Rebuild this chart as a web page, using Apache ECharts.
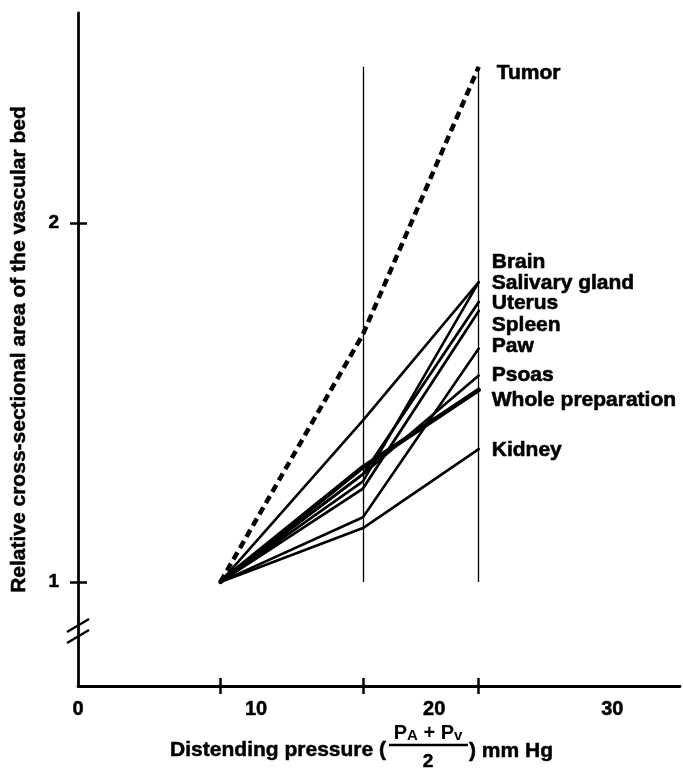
<!DOCTYPE html>
<html>
<head>
<meta charset="utf-8">
<script src="https://cdn.jsdelivr.net/npm/echarts@6/dist/echarts.min.js"></script>
<style>
  html, body { margin: 0; padding: 0; background: #fff; }
  #main { width: 683px; height: 773px; }
</style>
</head>
<body>
<div id="main"></div>
<script>
// distending pressure (mm Hg) where each preparation was measured
var pressure = [8, 16, 22.5];

// relative cross-sectional area, one array per preparation
var tumor = [1, 1.69, 2.435];
var brain = [1, 1.45, 1.835];
var salivary = [1, 1.28, 1.835];
var uterus = [1, 1.30, 1.78];
var spleen = [1, 1.26, 1.755];
var paw = [1, 1.18, 1.65];
var psoas = [1, 1.30, 1.575];
var whole = [1, 1.32, 1.535];
var kidney = [1, 1.15, 1.37];

var xLabels = [0, 10, 20, 30];
var yLabels = [1, 2];

// thin vertical guide lines
var guideX = [16, 22.5];
var guideTop = 2.435;

var FONT = '"Liberation Sans", Arial, sans-serif';

var myChart = echarts.init(document.getElementById('main'));

function pairs(vals) {
    return pressure.map(function (p, i) { return [p, vals[i]]; });
}

// name, values, width, dashed, label offset
function organ(name, vals, width, dashed, dx, dy) {
    return {
        type: 'line',
        name: name,
        data: pairs(vals),
        symbol: 'none',
        silent: true,
        lineStyle: {
            color: '#000',
            width: width,
            type: dashed ? [8, 5] : 'solid',
            cap: dashed ? 'butt' : 'round',
            join: 'round'
        },
        endLabel: {
            show: true,
            formatter: '{a}',
            distance: 0,
            offset: [dx, dy],
            color: '#000',
            fontFamily: FONT,
            fontWeight: 'bold',
            fontSize: 21,
            textBorderColor: '#000',
            textBorderWidth: 0.6
        }
    };
}

var series = [
    organ('Tumor', tumor, 4.5, true, 18, 6),
    organ('Brain', brain, 2.6, false, 13, -20),
    organ('Salivary gland', salivary, 2.6, false, 13, 1),
    organ('Uterus', uterus, 2.8, false, 13, 1),
    organ('Spleen', spleen, 2.8, false, 13, 14),
    organ('Paw', paw, 2.6, false, 13, -2),
    organ('Psoas', psoas, 2.6, false, 13, 0),
    organ('Whole preparation', whole, 4.5, false, 13, 10),
    organ('Kidney', kidney, 2.6, false, 13, 1)
];

// guide lines
series.push({
    type: 'line',
    data: [],
    silent: true,
    markLine: {
        symbol: 'none',
        silent: true,
        animation: false,
        label: { show: false },
        lineStyle: { color: '#000', width: 1.3, type: 'solid' },
        data: guideX.map(function (x) {
            return [{ coord: [x, 1] }, { coord: [x, guideTop] }];
        })
    }
});

var labelStyle = {
    color: '#000',
    fontFamily: FONT,
    fontWeight: 'bold',
    textBorderColor: '#000',
    textBorderWidth: 0.5
};

myChart.setOption({
    animation: false,
    backgroundColor: '#fff',
    grid: { left: 78, right: 3, top: 13, bottom: 87 },
    xAxis: [
        {
            type: 'value',
            min: 0,
            max: 33.8,
            splitLine: { show: false },
            axisLine: { lineStyle: { color: '#000', width: 2.8 } },
            axisTick: {
                show: true,
                customValues: pressure,
                length: 8,
                lineStyle: { color: '#000', width: 2.5 }
            },
            axisLabel: Object.assign({
                customValues: xLabels,
                margin: 13,
                fontSize: 20
            }, labelStyle)
        },
        {
            type: 'value',
            position: 'bottom',
            min: 0,
            max: 33.8,
            splitLine: { show: false },
            axisLine: { show: false },
            axisLabel: { show: false },
            axisTick: {
                show: true,
                inside: true,
                customValues: pressure,
                length: 8,
                lineStyle: { color: '#000', width: 2.5 }
            }
        }
    ],
    yAxis: [
        {
            type: 'value',
            min: 0.71,
            max: 2.585,
            splitLine: { show: false },
            axisLine: { lineStyle: { color: '#000', width: 2.8 } },
            axisTick: {
                show: true,
                customValues: yLabels,
                length: 8,
                lineStyle: { color: '#000', width: 2.5 }
            },
            axisLabel: Object.assign({
                customValues: yLabels,
                margin: 19,
                fontSize: 19
            }, labelStyle),
            name: 'Relative cross-sectional area of the vascular bed',
            nameLocation: 'middle',
            nameRotate: 90,
            nameGap: 48,
            nameTextStyle: Object.assign({ fontSize: 21 }, labelStyle)
        },
        {
            type: 'value',
            position: 'left',
            min: 0.71,
            max: 2.585,
            splitLine: { show: false },
            axisLine: { show: false },
            axisLabel: { show: false },
            axisTick: {
                show: true,
                inside: true,
                customValues: yLabels,
                length: 9,
                lineStyle: { color: '#000', width: 2.5 }
            }
        }
    ],
    graphic: [
        // axis break marks
        { type: 'line', shape: { x1: 67, y1: 632, x2: 89, y2: 619 }, style: { stroke: '#000', lineWidth: 2.5 } },
        { type: 'line', shape: { x1: 67, y1: 643, x2: 89, y2: 630 }, style: { stroke: '#000', lineWidth: 2.5 } },
        // x axis title with fraction
        {
            type: 'text', x: 386, y: 750,
            style: { text: 'Distending pressure (', fill: '#000', stroke: '#000', lineWidth: 0.5, font: 'bold 21px ' + FONT, textAlign: 'right', textVerticalAlign: 'middle' }
        },
        {
            type: 'text', x: 428, y: 733,
            style: {
                text: '{p|P}{s|A}{p| + P}{s|v}',
                textAlign: 'center', textVerticalAlign: 'middle',
                rich: {
                    p: { fontFamily: FONT, fontWeight: 'bold', fontSize: 20, fill: '#000', color: '#000' },
                    s: { fontFamily: FONT, fontWeight: 'bold', fontSize: 15, fill: '#000', color: '#000', verticalAlign: 'bottom' }
                }
            }
        },
        { type: 'line', shape: { x1: 389, y1: 745, x2: 468, y2: 745 }, style: { stroke: '#000', lineWidth: 2.5 } },
        {
            type: 'text', x: 428, y: 762,
            style: { text: '2', fill: '#000', stroke: '#000', lineWidth: 0.5, font: 'bold 19px ' + FONT, textAlign: 'center', textVerticalAlign: 'middle' }
        },
        {
            type: 'text', x: 469, y: 751,
            style: { text: ') mm Hg', fill: '#000', stroke: '#000', lineWidth: 0.5, font: 'bold 21px ' + FONT, textAlign: 'left', textVerticalAlign: 'middle' }
        }
    ],
    series: series
});
</script>
</body>
</html>
